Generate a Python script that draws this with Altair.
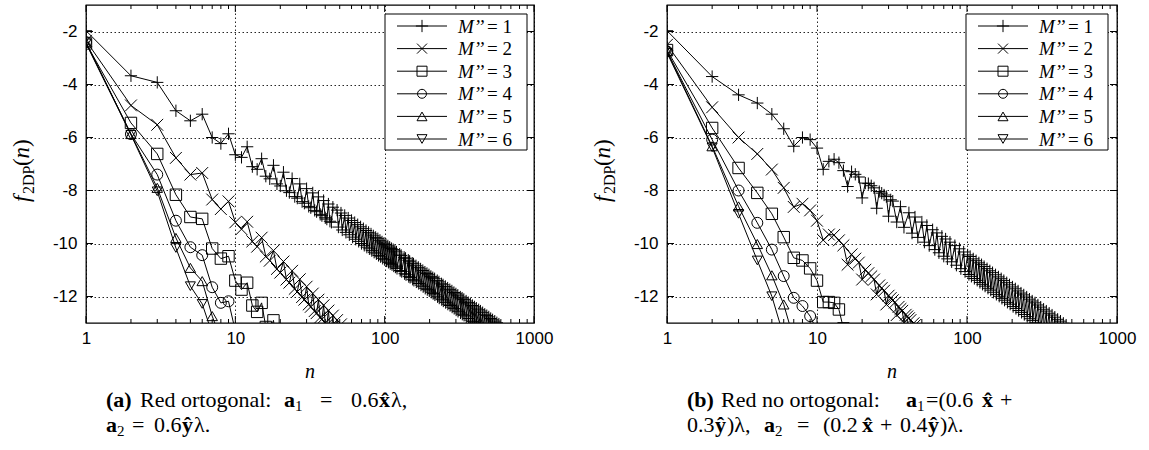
import altair as alt
import pandas as pd

SERIES = ["1", "2", "3", "4", "5", "6"]

# ---------------- panel (a): orthogonal lattice ----------------
a1_n = [1, 2, 3, 4, 5, 6, 7, 8, 9, 10, 11, 12, 13, 14, 15, 16, 17, 18, 19, 20,
        21, 22, 23, 24, 25, 26, 27, 28, 29, 30, 31, 32, 33, 34, 35, 36, 37, 38, 39, 40,
        41, 42, 43, 44, 45, 48, 49, 51, 52, 54, 55, 57, 58, 60, 61, 63, 64, 66, 67, 69,
        70, 72, 73, 75, 76, 78, 79, 81, 82, 84, 85, 87, 88, 90, 91, 93, 94, 96, 97, 99,
        100, 102, 103, 105, 106, 108, 109, 111, 112, 114, 115, 117, 118, 120, 121, 126, 127, 129, 130, 135,
        136, 138, 139, 144, 145, 147, 148, 153, 154, 156, 157, 162, 163, 168, 169, 174, 175, 180, 181, 186,
        187, 192, 193, 198, 199, 204, 205, 210, 211, 216, 217, 225, 226, 231, 232, 240, 241, 246, 247, 255,
        256, 264, 265, 273, 274, 282, 283, 291, 292, 300, 301, 309, 310, 321, 322, 330, 331, 339, 340, 351,
        352, 363, 364, 375, 376, 387, 388, 399, 400, 411, 412, 426, 427, 438, 439, 453, 454, 468, 469, 483,
        484, 498, 499, 513, 514, 528, 529, 546, 547, 564, 565, 582, 583]
a1_f = [-1.97, -3.67, -3.92, -4.99, -5.37, -5.12, -6.00, -6.23, -5.86, -6.65, -6.75, -6.35, -7.10, -7.20, -6.80, -7.46, -7.56, -7.05, -7.75, -7.83,
        -7.31, -8.01, -8.08, -7.55, -8.23, -8.29, -7.75, -8.42, -8.48, -7.93, -8.60, -8.65, -8.09, -8.75, -8.80, -8.24, -8.90, -8.95, -8.38, -9.03,
        -9.08, -8.51, -9.16, -9.20, -8.63, -8.74, -9.38, -8.85, -9.49, -8.94, -9.58, -9.04, -9.67, -9.13, -9.76, -9.21, -9.84, -9.29, -9.92, -9.37,
        -10.00, -9.44, -10.07, -9.51, -10.14, -9.58, -10.20, -9.64, -10.27, -9.71, -10.33, -9.77, -10.39, -9.82, -10.45, -9.88, -10.50, -9.94, -10.56, -9.99,
        -10.61, -10.04, -10.66, -10.09, -10.71, -10.14, -10.76, -10.19, -10.80, -10.23, -10.85, -10.28, -10.89, -10.32, -10.94, -10.40, -11.02, -10.45, -11.06, -10.52,
        -11.14, -10.56, -11.18, -10.63, -11.25, -10.67, -11.28, -10.74, -11.35, -10.77, -11.39, -10.84, -11.45, -10.90, -11.51, -10.96, -11.57, -11.02, -11.63, -11.08,
        -11.69, -11.13, -11.74, -11.18, -11.79, -11.24, -11.84, -11.29, -11.89, -11.33, -11.94, -11.40, -12.01, -11.45, -12.06, -11.52, -12.12, -11.56, -12.17, -11.62,
        -12.23, -11.68, -12.29, -11.74, -12.34, -11.79, -12.40, -11.85, -12.45, -11.90, -12.51, -11.95, -12.56, -12.02, -12.62, -12.06, -12.67, -12.11, -12.71, -12.17,
        -12.77, -12.23, -12.83, -12.28, -12.89, -12.34, -12.94, -12.39, -12.99, -12.44, -13.05, -12.50, -13.11, -12.55, -13.16, -12.61, -13.21, -12.67, -13.27, -12.72,
        -13.32, -12.77, -13.38, -12.83, -13.42, -12.88, -13.48, -12.93, -13.53, -12.99, -13.59, -13.04, -13.64]

a2_n = list(range(1, 53))
a2_f = [-2.35, -4.79, -5.52, -6.77, -7.40, -7.34, -8.34, -8.70, -8.41, -9.20,
        -9.46, -9.18, -9.92, -10.12, -9.78, -10.49, -10.65, -10.27, -10.96, -11.10,
        -10.68, -11.36, -11.48, -11.03, -11.71, -11.82, -11.35, -12.02, -12.12, -11.63,
        -12.30, -12.39, -11.89, -12.55, -12.63, -12.12, -12.79, -12.86, -12.33, -13.00,
        -13.07, -12.53, -13.20, -13.26, -12.72, -13.38, -13.44, -12.89, -13.55, -13.60,
        -13.05, -13.70]

a3_n = list(range(1, 20))
a3_f = [-2.45, -5.45, -6.62, -8.16, -9.00, -9.07, -10.19, -10.57, -10.48, -11.40,
        -11.74, -11.48, -12.34, -12.58, -12.24, -13.15, -13.35, -12.90, -13.80]

a4_n = list(range(1, 11))
a4_f = [-2.40, -5.87, -7.40, -9.14, -10.14, -10.44, -11.65, -12.24, -12.18, -13.30]

a5_n = list(range(1, 9))
a5_f = [-2.42, -5.87, -7.90, -9.79, -10.92, -11.42, -12.74, -13.60]

a6_n = list(range(1, 8))
a6_f = [-2.45, -5.90, -8.03, -10.17, -11.61, -12.28, -13.40]

# ---------------- panel (b): non-orthogonal lattice ----------------
b1_n = [1, 2, 3, 4, 5, 6, 7, 8, 9, 10, 11, 12, 13, 14, 15, 16, 17, 18, 19, 20,
        21, 22, 23, 24, 25, 26, 27, 28, 29, 30, 31, 32, 34, 36, 38, 41, 43, 45, 47, 50,
        52, 54, 56, 59, 61, 63, 65, 68, 70, 72, 74, 77, 79, 83, 85, 89, 91, 95, 97, 101,
        103, 105, 107, 110, 112, 115, 117, 120, 122, 125, 127, 130, 132, 136, 138, 142, 144, 148, 150, 155,
        157, 162, 164, 169, 171, 176, 178, 184, 186, 192, 194, 201, 203, 210, 212, 219, 221, 229, 231, 239,
        241, 250, 252, 261, 263, 272, 274, 284, 286, 297, 299, 310, 312, 324, 326, 338, 340, 353, 355, 369,
        371, 385, 387, 402, 404, 420, 422, 439, 441, 458, 460]
b1_f = [-1.97, -3.70, -4.39, -4.70, -5.12, -5.67, -6.33, -6.00, -6.08, -6.40, -7.20, -6.90, -6.82, -6.95, -7.25, -7.85, -7.29, -7.39, -7.49, -8.28,
        -7.72, -7.74, -7.82, -7.90, -8.67, -8.04, -8.10, -8.17, -8.23, -8.97, -8.35, -8.40, -9.19, -8.61, -9.39, -8.84, -9.61, -9.00, -9.77, -9.19,
        -9.95, -9.32, -10.08, -9.48, -10.23, -9.60, -10.35, -9.73, -10.48, -9.83, -10.58, -9.95, -10.69, -10.08, -10.82, -10.20, -10.95, -10.32, -11.06, -10.43,
        -11.17, -10.49, -11.24, -10.58, -11.32, -10.65, -11.39, -10.73, -11.47, -10.80, -11.54, -10.87, -11.61, -10.95, -11.69, -11.03, -11.76, -11.10, -11.84, -11.18,
        -11.92, -11.26, -11.99, -11.33, -12.07, -11.40, -12.14, -11.48, -12.22, -11.56, -12.29, -11.64, -12.38, -11.71, -12.45, -11.79, -12.53, -11.87, -12.60, -11.94,
        -12.68, -12.02, -12.76, -12.10, -12.84, -12.17, -12.91, -12.24, -12.99, -12.32, -13.06, -12.40, -13.14, -12.48, -13.22, -12.55, -13.29, -12.63, -13.37, -12.70,
        -13.45, -12.78, -13.52, -12.86, -13.60, -12.93, -13.68, -13.01, -13.76, -13.08, -13.84]

b2_n = list(range(1, 46))
b2_f = [-2.50, -4.86, -6.00, -6.62, -7.21, -7.90, -8.62, -8.50, -8.75, -9.14,
        -9.87, -9.66, -9.68, -9.88, -10.07, -10.80, -10.41, -10.57, -10.72, -11.36,
        -10.99, -11.12, -11.24, -11.36, -11.92, -11.58, -11.68, -11.78, -12.30, -11.97,
        -12.06, -12.14, -12.23, -12.70, -12.39, -12.47, -12.54, -12.98, -12.69, -12.75,
        -12.82, -12.89, -13.29, -13.01, -13.08]

b3_n = list(range(1, 16))
b3_f = [-2.70, -5.64, -7.15, -8.09, -8.88, -9.76, -10.54, -10.64, -10.94, -11.40,
        -12.21, -12.21, -12.24, -12.49, -13.20]

b4_n = list(range(1, 11))
b4_f = [-2.75, -6.08, -8.00, -9.22, -10.23, -11.23, -12.05, -12.36, -12.74, -13.30]

b5_n = list(range(1, 8))
b5_f = [-2.75, -6.33, -8.60, -10.02, -11.20, -12.30, -13.60]

b6_n = list(range(1, 7))
b6_f = [-2.80, -6.37, -8.88, -10.64, -11.99, -13.50]

X_MAJOR = [1, 10, 100, 1000]
X_MINOR = [2, 3, 4, 5, 6, 7, 8, 9, 20, 30, 40, 50, 60, 70, 80, 90,
           200, 300, 400, 500, 600, 700, 800, 900]
Y_TICKS = [-2, -4, -6, -8, -10, -12]

SHAPES = ["M-1,0L1,0M0,-1L0,1", "M-1,-1L1,1M-1,1L1,-1", "square", "circle",
          "triangle-up", "triangle-down"]
SIZES = [150, 100, 100, 80, 100, 100]

H = 318
OY = 4
CAP = 22


def make_df(pairs):
    frames = []
    for s, (ns, fs) in zip(SERIES, pairs):
        frames.append(pd.DataFrame({"n": ns, "f": fs, "s": s}))
    return pd.concat(frames, ignore_index=True)


def txt(s, x, y, size=CAP, weight="normal", style="normal",
        font="Liberation Serif", angle=0, align="left", baseline="alphabetic"):
    return alt.Chart(pd.DataFrame({"t": [s]})).mark_text(
        align=align, baseline=baseline, font=font, fontSize=size,
        fontWeight=weight, fontStyle=style, angle=angle, color="black"
    ).encode(text="t:N", x=alt.value(x), y=alt.value(y))


def panel(df, W, ox, cap1, cap2, anchor=False):
    xs = alt.Scale(type="log", domain=[1, 1000])
    ys = alt.Scale(domain=[-13, -1])
    xaxis = alt.Axis(values=X_MAJOR, labelExpr="'' + datum.value", title=None,
                     ticks=False, domain=False, grid=True, gridDash=[1.5, 2.5],
                     gridColor="#000", gridOpacity=0.85, labelFont="Liberation Sans",
                     labelFontSize=17, labelColor="#000", labelPadding=7,
                     labelFlush=False)
    yaxis = alt.Axis(values=Y_TICKS, labelExpr="'' + datum.value", title=None,
                     ticks=False, domain=False, grid=True, gridDash=[1.5, 2.5],
                     gridColor="#000", gridOpacity=0.85, labelFont="Liberation Sans",
                     labelFontSize=17, labelColor="#000", labelPadding=9)
    X = lambda: alt.X("n:Q", scale=xs, axis=xaxis)
    Y = lambda: alt.Y("f:Q", scale=ys, axis=yaxis)

    base = alt.Chart(df)
    lines = base.mark_line(color="black", strokeWidth=1, clip=True).encode(
        x=X(), y=Y(), detail="s:N", order="n:Q")
    pts = base.mark_point(filled=False, color="black", strokeWidth=1, clip=True,
                          opacity=1).encode(
        x=X(), y=Y(),
        shape=alt.Shape("s:N", scale=alt.Scale(domain=SERIES, range=SHAPES), legend=None),
        size=alt.Size("s:N", scale=alt.Scale(domain=SERIES, range=SIZES), legend=None))
    layers = [lines, pts]

    # inward ticks (gnuplot style)
    for vals, ln in ((X_MINOR, 4), (X_MAJOR, 7)):
        tdf = pd.DataFrame({"n": vals})
        layers.append(alt.Chart(tdf).mark_rule(color="black", strokeWidth=1).encode(
            x=X(), y=alt.value(H), y2=alt.value(H - ln)))
        layers.append(alt.Chart(tdf).mark_rule(color="black", strokeWidth=1).encode(
            x=X(), y=alt.value(0), y2=alt.value(ln)))
    ydf = pd.DataFrame({"f": Y_TICKS})
    layers.append(alt.Chart(ydf).mark_rule(color="black", strokeWidth=1).encode(
        y=Y(), x=alt.value(0), x2=alt.value(7)))
    layers.append(alt.Chart(ydf).mark_rule(color="black", strokeWidth=1).encode(
        y=Y(), x=alt.value(W), x2=alt.value(W - 7)))

    # legend
    layers.append(alt.Chart(pd.DataFrame({"a": [0]})).mark_rect(
        fill="white", stroke="black", strokeWidth=1).encode(
        x=alt.value(299), x2=alt.value(441), y=alt.value(9), y2=alt.value(145)))
    for i, s in enumerate(SERIES):
        yy = 21 + 22.6 * i
        one = pd.DataFrame({"t": [s]})
        layers.append(alt.Chart(one).mark_rule(color="black", strokeWidth=1).encode(
            x=alt.value(311), x2=alt.value(361), y=alt.value(yy)))
        layers.append(alt.Chart(one).mark_point(
            filled=False, color="black", strokeWidth=1, opacity=1,
            shape=SHAPES[i], size=SIZES[i]).encode(x=alt.value(336), y=alt.value(yy)))
        layers.append(txt("M\u2019\u2019", 372, yy + 6.5, size=19, style="italic"))
        layers.append(txt("= " + s, 401, yy + 6.5, size=19))

    # y-axis title f_2DP(n)
    bx = -57
    layers.append(txt("f", bx, 197, size=23, style="italic", angle=270))
    layers.append(txt("2DP", bx + 5, 189, size=16, angle=270))
    layers.append(txt("(", bx, 161, size=23, angle=270))
    layers.append(txt("n", bx, 153.5, size=23, style="italic", angle=270))
    layers.append(txt(")", bx, 142, size=23, angle=270))
    # x-axis title
    layers.append(txt("n", W / 2, 373, size=20, style="italic", align="center"))

    # caption
    for line, yb in ((cap1, 406 - OY), (cap2, 431 - OY)):
        for piece in line:
            s, ax, kind = piece
            if kind == "b":
                layers.append(txt(s, ax - ox, yb, weight="bold"))
            elif kind == "sub":
                layers.append(txt(s, ax - ox, yb + 4, size=15))
            else:
                layers.append(txt(s, ax - ox, yb))

    if anchor:
        layers.append(alt.Chart(pd.DataFrame({"a": [0]})).mark_rule(
            color="white", strokeOpacity=0).encode(
            x=alt.value(-85), x2=alt.value(-80), y=alt.value(-4), y2=alt.value(-4)))

    return alt.layer(*layers).properties(width=W, height=H)


df_a = make_df([(a1_n, a1_f), (a2_n, a2_f), (a3_n, a3_f),
                (a4_n, a4_f), (a5_n, a5_f), (a6_n, a6_f)])
df_b = make_df([(b1_n, b1_f), (b2_n, b2_f), (b3_n, b3_f),
                (b4_n, b4_f), (b5_n, b5_f), (b6_n, b6_f)])

cap_a1 = [("(a)", 105, "b"), ("Red ortogonal:", 139, "n"), ("a", 283, "b"),
          ("1", 294, "sub"), ("=", 319, "n"), ("0.6", 350, "n"), ("x\u0302", 378, "b"),
          ("\u03bb,", 390, "n")]
cap_a2 = [("a", 105, "b"), ("2", 116, "sub"), ("=", 131, "n"), ("0.6", 153, "n"),
          ("\u0177", 181, "b"), ("\u03bb.", 193, "n")]
cap_b1 = [("(b)", 686, "b"), ("Red no ortogonal:", 720, "n"), ("a", 905, "b"),
          ("1", 916, "sub"), ("=(0.6", 925, "n"), ("x\u0302", 981, "b"), ("+", 999, "n")]
cap_b2 = [("0.3", 686, "n"), ("\u0177", 714, "b"), (")\u03bb,", 726, "n"),
          ("a", 763, "b"), ("2", 774, "sub"), ("=", 796, "n"), ("(0.2", 822, "n"),
          ("x\u0302", 861, "b"), ("+", 879, "n"), ("0.4", 899, "n"),
          ("\u0177", 927, "b"), (")\u03bb.", 939, "n")]

left = panel(df_a, 448, 85, cap_a1, cap_a2, anchor=True)
right = panel(df_b, 450, 666, cap_b1, cap_b2)

chart = alt.hconcat(left, right, spacing=133, bounds="flush").properties(
    padding=0, background="white"
).configure_view(stroke="black", strokeWidth=1.3)

chart.save("out.html", embed_options={"renderer": "svg", "actions": False})
